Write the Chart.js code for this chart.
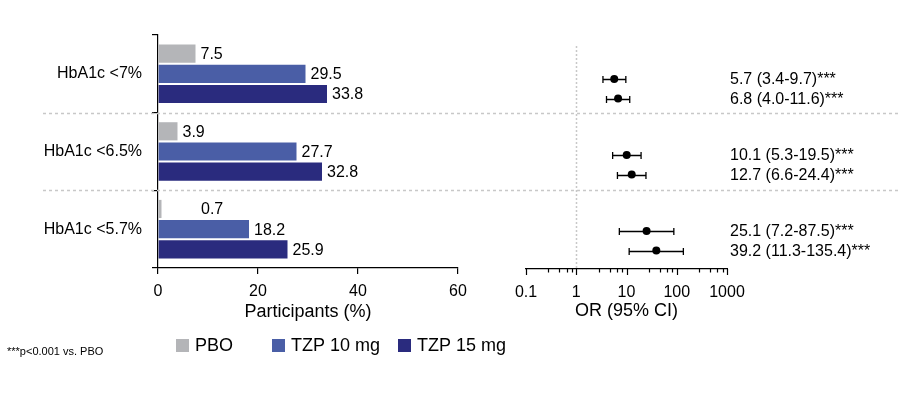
<!DOCTYPE html>
<html><head><meta charset="utf-8">
<script src="https://cdn.jsdelivr.net/npm/chart.js@4"></script>
<style>
html,body{margin:0;padding:0;background:#fff;}
#wrap{position:relative;width:898px;height:394px;overflow:hidden;}
#wrap canvas{position:absolute;left:0;top:0;}
</style></head><body>
<div id="wrap"><canvas id="bars" width="898" height="394"></canvas><canvas id="forest" width="898" height="394"></canvas></div>
<script>
// ---- data ----
const categories = ['HbA1c <7%', 'HbA1c <6.5%', 'HbA1c <5.7%'];
const seriesNames = ['PBO', 'TZP 10 mg', 'TZP 15 mg'];
const pboValues = [7.5, 3.9, 0.7];
const tzp10Values = [29.5, 27.7, 18.2];
const tzp15Values = [33.8, 32.8, 25.9];
const percentTicks = [0, 20, 40, 60];
const or10 = [5.7, 10.1, 25.1];
const lo10 = [3.4, 5.3, 7.2];
const hi10 = [9.7, 19.5, 87.5];
const or15 = [6.8, 12.7, 39.2];
const lo15 = [4.0, 6.6, 11.3];
const hi15 = [11.6, 24.4, 135.4];
const orMajorTicks = [0.1, 1, 10, 100, 1000];
const orMinorSteps = [2.8, 4.6, 6.4, 8.2];
const leftAxisTitle = 'Participants (%)';
const rightAxisTitle = 'OR (95% CI)';
const footnote = '***p<0.001 vs. PBO';

// ---- style ----
const FONT = "'Liberation Sans', Arial, sans-serif";
const colors = ['#b4b5b8', '#4a5ea6', '#2a2b7e'];
const DOSE_OFFSET = 0.257;

const barPlugin = {
  id: 'barExtras',
  afterDatasetsDraw(chart) {
    const ctx = chart.ctx;
    const xs = chart.scales.x;
    ctx.save();
    ctx.fillStyle = '#000';
    ctx.font = '16px ' + FONT;
    ctx.textAlign = 'left';
    ctx.textBaseline = 'middle';
    chart.data.datasets.forEach((ds, di) => {
      const meta = chart.getDatasetMeta(di);
      meta.data.forEach((bar, j) => {
        const v = ds.data[j];
        let x = bar.x + 5;
        if (v < 1) x = xs.getPixelForValue(8.6);
        ctx.fillText(v.toFixed(1), x, bar.y + 1);
      });
    });
    ctx.restore();
  },
  afterDraw(chart) {
    const ctx = chart.ctx;
    const ys = chart.scales.y;
    ctx.save();
    // separators
    ctx.strokeStyle = '#c8c8c8';
    ctx.lineWidth = 1.5;
    ctx.setLineDash([3, 3]);
    for (let i = 0; i < categories.length - 1; i++) {
      const y = Math.round((ys.getPixelForValue(i) + ys.getPixelForValue(i + 1)) / 2) + 0.5;
      ctx.beginPath();
      ctx.moveTo(43, y);
      ctx.lineTo(898, y);
      ctx.stroke();
    }
    ctx.setLineDash([]);
    // legend
    const legendX = [176, 272, 398];
    ctx.font = '18px ' + FONT;
    ctx.textBaseline = 'middle';
    ctx.textAlign = 'left';
    chart.data.datasets.forEach((ds, i) => {
      ctx.fillStyle = ds.backgroundColor;
      ctx.fillRect(legendX[i], 339, 13, 13);
      ctx.fillStyle = '#000';
      ctx.fillText(ds.label, legendX[i] + 19, 346);
    });
    // footnote
    ctx.font = '11px ' + FONT;
    ctx.fillText(footnote, 7, 352);
    ctx.restore();
  }
};

new Chart(document.getElementById('bars'), {
  type: 'bar',
  data: {
    labels: categories,
    datasets: [pboValues, tzp10Values, tzp15Values].map((d, i) => ({
      label: seriesNames[i], data: d, backgroundColor: colors[i], borderWidth: 0,
      categoryPercentage: 0.78, barPercentage: 0.9
    }))
  },
  options: {
    indexAxis: 'y', responsive: false, animation: false, devicePixelRatio: 1,
    layout: { padding: { left: 0, top: 35, right: 440, bottom: 0 } },
    plugins: { legend: { display: false }, tooltip: { enabled: false } },
    scales: {
      x: {
        min: 0, max: 60,
        afterBuildTicks: s => { s.ticks = percentTicks.map(v => ({ value: v })); },
        grid: { drawOnChartArea: false, tickLength: 6, color: '#000', lineWidth: 1.2 },
        border: { color: '#000', width: 1.2 },
        ticks: { color: '#000', font: { family: FONT, size: 16 }, padding: 8, maxRotation: 0 },
        title: { display: true, text: leftAxisTitle, color: '#000', font: { family: FONT, size: 18 }, padding: { top: 0, bottom: 71 } },
        afterFit: s => { s.height = 126; }
      },
      y: {
        grid: { drawOnChartArea: false, tickLength: 6, color: '#000', lineWidth: 1.2 },
        border: { color: '#000', width: 1.2 },
        ticks: { color: '#000', font: { family: FONT, size: 16 }, padding: 10 },
        afterFit: s => { s.width = 158; }
      }
    }
  },
  plugins: [barPlugin]
});

// ---- forest plot ----
const forestPlugin = {
  id: 'forestExtras',
  beforeDatasetsDraw(chart) {
    const ctx = chart.ctx;
    const xs = chart.scales.x, ys = chart.scales.y;
    const area = chart.chartArea;
    ctx.save();
    // reference line at OR = 1
    const xr = Math.round(xs.getPixelForValue(1)) + 0.5;
    ctx.strokeStyle = '#c8c8c8';
    ctx.lineWidth = 1.5;
    ctx.setLineDash([2, 2]);
    ctx.beginPath();
    ctx.moveTo(xr, area.top);
    ctx.lineTo(xr, area.bottom);
    ctx.stroke();
    ctx.setLineDash([]);
    // whiskers
    ctx.strokeStyle = '#000';
    ctx.lineWidth = 1.3;
    chart.data.datasets.forEach(ds => {
      ds.data.forEach(p => {
        const y = Math.round(ys.getPixelForValue(p.y)) + 0.5;
        const x1 = xs.getPixelForValue(p.lo), x2 = xs.getPixelForValue(p.hi);
        ctx.beginPath();
        ctx.moveTo(x1, y); ctx.lineTo(x2, y);
        ctx.moveTo(x1, y - 3.5); ctx.lineTo(x1, y + 3.5);
        ctx.moveTo(x2, y - 3.5); ctx.lineTo(x2, y + 3.5);
        ctx.stroke();
      });
    });
    ctx.restore();
  },
  afterDraw(chart) {
    const ctx = chart.ctx;
    const xs = chart.scales.x, ys = chart.scales.y;
    const area = chart.chartArea;
    ctx.save();
    // tick marks pointing down
    ctx.strokeStyle = '#000';
    ctx.lineWidth = 1.2;
    xs.ticks.forEach(t => {
      const x = Math.round(xs.getPixelForValue(t.value)) + 0.5;
      const len = orMajorTicks.includes(t.value) ? 6 : 3.5;
      ctx.beginPath();
      ctx.moveTo(x, area.bottom);
      ctx.lineTo(x, area.bottom + len);
      ctx.stroke();
    });
    // OR text labels
    ctx.fillStyle = '#000';
    ctx.font = '16px ' + FONT;
    ctx.textAlign = 'left';
    ctx.textBaseline = 'middle';
    chart.data.datasets.forEach(ds => {
      ds.data.forEach(p => {
        const y = ys.getPixelForValue(p.y);
        ctx.fillText(p.x.toFixed(1) + ' (' + p.lo.toFixed(1) + '-' + p.hi.toFixed(1) + ')***', area.right + 3, y + 1);
      });
    });
    ctx.restore();
  }
};

new Chart(document.getElementById('forest'), {
  type: 'scatter',
  data: {
    datasets: [
      { label: 'TZP 10 mg', data: or10.map((v, i) => ({ x: v, y: i, lo: lo10[i], hi: hi10[i] })) },
      { label: 'TZP 15 mg', data: or15.map((v, i) => ({ x: v, y: i + DOSE_OFFSET, lo: lo15[i], hi: hi15[i] })) }
    ].map(d => Object.assign(d, { pointRadius: 4, pointBackgroundColor: '#000', pointBorderWidth: 0, backgroundColor: '#000', borderColor: '#000' }))
  },
  options: {
    responsive: false, animation: false, devicePixelRatio: 1,
    layout: { padding: { left: 526, top: 46, right: 171, bottom: 0 } },
    plugins: { legend: { display: false }, tooltip: { enabled: false } },
    scales: {
      x: {
        type: 'logarithmic', min: 0.1, max: 1000,
        afterBuildTicks: s => {
          const t = [];
          orMajorTicks.forEach((m, i) => {
            t.push({ value: m, major: true });
            if (i < orMajorTicks.length - 1) orMinorSteps.forEach(f => t.push({ value: m * f }));
          });
          s.ticks = t;
        },
        grid: { display: false, drawTicks: false },
        border: { display: true, color: '#000', width: 1.2 },
        ticks: {
          autoSkip: false, maxRotation: 0, color: '#000', font: { family: FONT, size: 16 }, padding: 14,
          callback: v => orMajorTicks.includes(v) ? String(v) : ''
        },
        title: { display: true, text: rightAxisTitle, color: '#000', font: { family: FONT, size: 18 }, padding: { top: 0, bottom: 72 } },
        afterFit: s => { s.height = 125; }
      },
      y: {
        type: 'linear', reverse: true, min: -0.434, max: 2.5, display: false
      }
    }
  },
  plugins: [forestPlugin]
});
</script>
</body></html>
